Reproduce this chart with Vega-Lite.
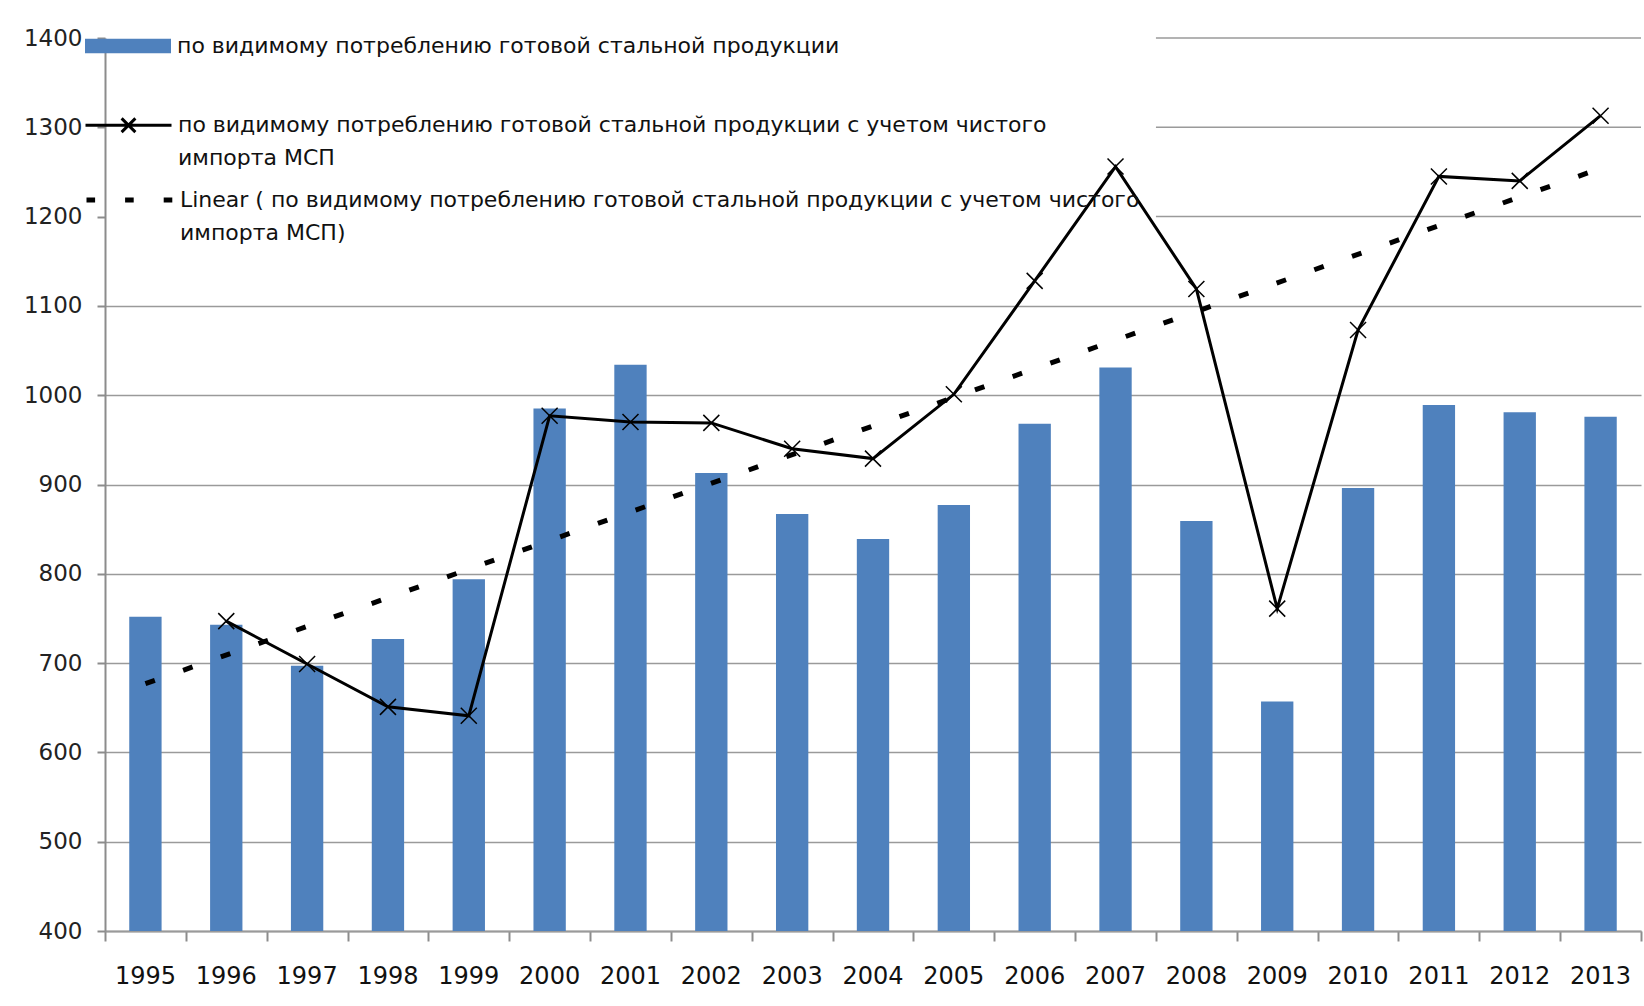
{
  "$schema": "https://vega.github.io/schema/vega-lite/v6.json",
  "width": 1536,
  "height": 893,
  "autosize": {"type": "none"},
  "padding": {"left": 105, "top": 38, "right": 3, "bottom": 75},
  "background": "white",
  "config": {
    "view": {"stroke": null},
    "style": {"guide-label": {"lineHeight": 33}},
    "axis": {
      "labelFont": "DejaVu Sans",
      "labelColor": "#222222",
      "domainColor": "#8c8c8c",
      "domainWidth": 2,
      "tickColor": "#8c8c8c",
      "tickWidth": 2,
      "gridColor": "#9a9a9a",
      "gridWidth": 1.5,
      "title": null
    },
    "legend": {
      "labelFont": "DejaVu Sans",
      "labelFontSize": 22,
      "labelColor": "#111111",
      "labelLimit": 2000,
      "labelOffset": 5,
      "padding": 0,
      "symbolSize": 7396,
      "title": null,
      "orient": "none"
    }
  },
  "data": {
    "values": [
      {"year": "1995", "bar": 752, "line": null, "trend": 677},
      {"year": "1996", "bar": 743, "line": 747, "trend": null},
      {"year": "1997", "bar": 697, "line": 699, "trend": null},
      {"year": "1998", "bar": 727, "line": 651, "trend": null},
      {"year": "1999", "bar": 794, "line": 641, "trend": null},
      {"year": "2000", "bar": 985, "line": 977, "trend": null},
      {"year": "2001", "bar": 1034, "line": 970, "trend": null},
      {"year": "2002", "bar": 913, "line": 969, "trend": null},
      {"year": "2003", "bar": 867, "line": 940, "trend": null},
      {"year": "2004", "bar": 839, "line": 929, "trend": null},
      {"year": "2005", "bar": 877, "line": 1001, "trend": null},
      {"year": "2006", "bar": 968, "line": 1128, "trend": null},
      {"year": "2007", "bar": 1031, "line": 1256, "trend": null},
      {"year": "2008", "bar": 859, "line": 1119, "trend": null},
      {"year": "2009", "bar": 657, "line": 761, "trend": null},
      {"year": "2010", "bar": 896, "line": 1073, "trend": null},
      {"year": "2011", "bar": 989, "line": 1245, "trend": null},
      {"year": "2012", "bar": 981, "line": 1240, "trend": null},
      {"year": "2013", "bar": 976, "line": 1313, "trend": 1254}
    ]
  },
  "resolve": {
    "scale": {"x": "independent", "color": "independent"},
    "axis": {"x": "independent"},
    "legend": {"color": "independent"}
  },
  "layer": [
    {
      "data": {"values": [{"g": 1200}, {"g": 1300}, {"g": 1400}]},
      "mark": {"type": "rule", "color": "#9a9a9a", "strokeWidth": 1.5},
      "encoding": {
        "y": {"field": "g", "type": "quantitative", "scale": {"domain": [400, 1400], "nice": false, "zero": false}},
        "x": {
          "datum": "2008", "type": "ordinal", "bandPosition": 0,
          "scale": {
            "domain": ["1995","1996","1997","1998","1999","2000","2001","2002","2003","2004","2005","2006","2007","2008","2009","2010","2011","2012","2013"],
            "paddingInner": 0, "paddingOuter": 0
          },
          "axis": {
            "orient": "bottom",
            "labels": false,
            "domain": false,
            "grid": false,
            "tickBand": "extent",
            "tickSize": 10
          }
        },
        "x2": {"value": "width"}
      }
    },
    {
      "resolve": {
        "scale": {"color": "independent"},
        "legend": {"color": "independent"}
      },
      "layer": [
        {
          "mark": {"type": "bar", "color": "#4F81BD"},
          "encoding": {
            "x": {
              "field": "year", "type": "ordinal",
              "scale": {"paddingInner": 0.6, "paddingOuter": 0.3},
              "axis": {
                "orient": "bottom",
                "labelAngle": 0,
                "labelFontSize": 24,
                "labelColor": "#111111",
                "ticks": true,
                "tickOpacity": 0,
                "tickSize": 10,
                "labelPadding": 23,
                "domainColor": "#9a9a9a"
              }
            },
            "y": {
              "field": "bar", "type": "quantitative",
              "scale": {"domain": [400, 1400], "nice": false, "zero": false},
              "axis": {
                "values": [400, 500, 600, 700, 800, 900, 1000, 1100, 1200, 1300, 1400],
                "format": "d",
                "labelFontSize": 23,
                "tickSize": 8,
                "labelPadding": 15,
                "grid": true,
                "gridOpacity": {"condition": {"test": "datum.value >= 1200", "value": 0}, "value": 1}
              }
            },
            "y2": {"datum": 400},
            "color": {
              "datum": "по видимому потреблению готовой стальной продукции",
              "scale": {"range": ["#4F81BD"]},
              "legend": {
                "legendX": -21,
                "legendY": -36,
                "symbolType": "M-1,-0.17H1V0.17H-1Z",
                "labelExpr": "'\u00a0' + datum.label"
              }
            }
          }
        },
        {
          "mark": {"type": "line", "strokeWidth": 5, "strokeDash": [10, 30], "strokeCap": "butt", "invalid": "filter"},
          "encoding": {
            "x": {"field": "year", "type": "ordinal"},
            "y": {"field": "trend", "type": "quantitative"},
            "color": {
              "datum": "Linear ( по видимому потреблению готовой стальной продукции с учетом чистого|импорта МСП)",
              "scale": {"range": ["#000000"]},
              "legend": {
                "legendX": -21,
                "legendY": 116.5,
                "symbolType": "M-1,0H1",
                "symbolStrokeWidth": 5,
                "symbolDash": [8.6, 30],
                "labelExpr": "split(datum.label, '|')"
              }
            }
          }
        },
        {
          "mark": {"type": "line", "strokeWidth": 3, "invalid": "filter"},
          "encoding": {
            "x": {"field": "year", "type": "ordinal"},
            "y": {"field": "line", "type": "quantitative"},
            "color": {
              "datum": "по видимому потреблению готовой стальной продукции с учетом чистого|импорта МСП",
              "scale": {"range": ["#000000"]},
              "legend": {
                "legendX": -21,
                "legendY": 42.7,
                "symbolType": "M-1,0H1M-0.16,-0.16L0.16,0.16M-0.16,0.16L0.16,-0.16",
                "symbolStrokeWidth": 3,
                "labelExpr": "split('\u00a0' + datum.label, '|')"
              }
            }
          }
        },
        {
          "mark": {"type": "point", "shape": "M-1,-1L1,1M-1,1L1,-1", "filled": false, "stroke": "#000000", "strokeWidth": 1.5, "size": 256, "opacity": 1},
          "encoding": {
            "x": {"field": "year", "type": "ordinal"},
            "y": {"field": "line", "type": "quantitative"}
          }
        }
      ]
    }
  ]
}
